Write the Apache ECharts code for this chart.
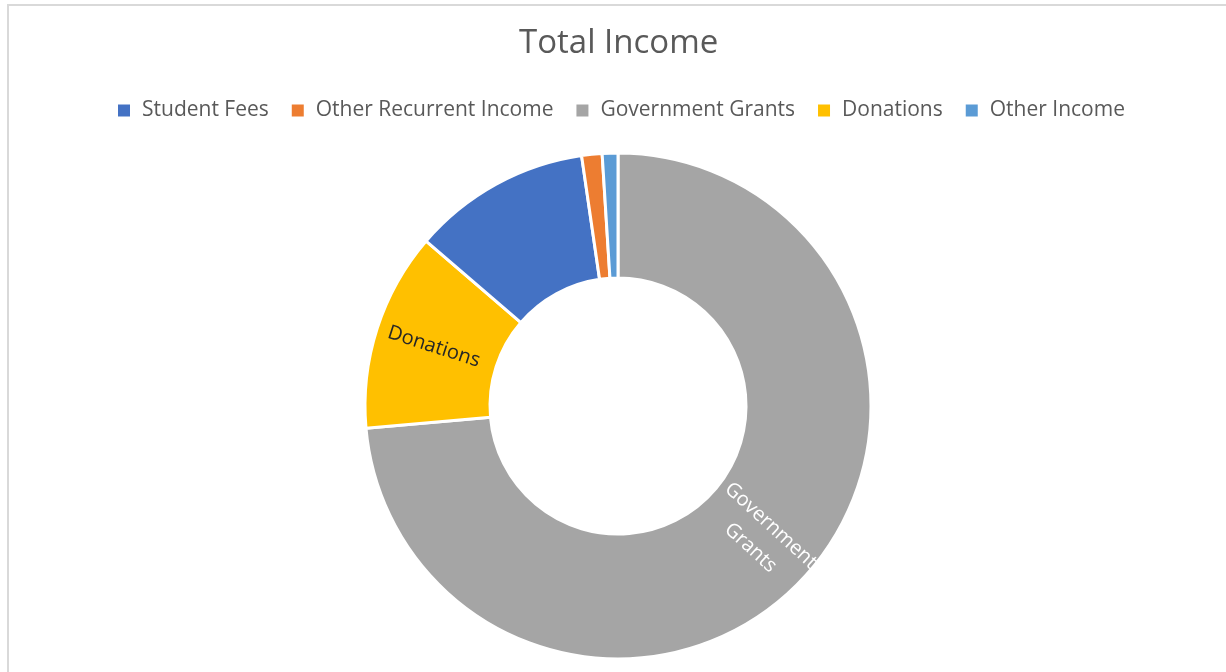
<!DOCTYPE html>
<html>
<head>
<meta charset="utf-8">
<script src="https://cdn.jsdelivr.net/npm/echarts@6/dist/echarts.min.js"></script>
<style>
  html, body { margin: 0; padding: 0; background: #fff; }
  #wrap { position: relative; width: 1226px; height: 672px; overflow: hidden; }
  #frame { position: absolute; left: 7px; top: 4px; width: 1240px; height: 700px; border: 2px solid #d9d9d9; box-sizing: border-box; }
  #main { position: absolute; left: 0; top: 0; width: 1226px; height: 672px; }
</style>
</head>
<body>
<div id="wrap">
  <div id="frame"></div>
  <div id="main"></div>
</div>
<script>
// legend order as in the reference
var legendNames = ['Student Fees', 'Other Recurrent Income', 'Government Grants', 'Donations', 'Other Income'];
// slices clockwise from 12 o'clock
var sliceNames = ['Government Grants', 'Donations', 'Student Fees', 'Other Recurrent Income', 'Other Income'];
var sliceValues = [73.6, 12.7, 11.4, 1.3, 1.0];
var sliceColors = ['#a5a5a5', '#ffc000', '#4472c4', '#ed7d31', '#5b9bd5'];
var shownLabels = {
  'Government Grants': { text: 'Government\nGrants', color: '#ffffff' },
  'Donations': { text: 'Donations', color: '#262626' }
};

var fontName = 'Open Sans';

var pieData = sliceNames.map(function (name, i) {
  var lab = shownLabels[name];
  return {
    name: name,
    value: sliceValues[i],
    itemStyle: { color: sliceColors[i] },
    label: lab ? { show: true, formatter: lab.text, color: lab.color } : { show: false }
  };
});

var myChart = echarts.init(document.getElementById('main'));

var option = {
  animation: false,
  title: {
    text: 'Total Income',
    left: 514,
    top: 22,
    textStyle: { fontFamily: fontName, fontSize: 33, fontWeight: 'normal', color: '#595959' }
  },
  legend: {
    data: legendNames,
    top: 95,
    left: 111,
    icon: 'rect',
    itemWidth: 14,
    itemHeight: 14,
    itemGap: 21,
    textStyle: { fontFamily: fontName, fontSize: 21, color: '#595959', padding: [0, 0, 0, 6] }
  },
  series: [{
    name: 'Total Income',
    type: 'pie',
    center: [618, 406],
    radius: [128, 253],
    startAngle: 90,
    clockwise: true,
    avoidLabelOverlap: false,
    itemStyle: { borderColor: '#ffffff', borderWidth: 3 },
    label: {
      position: 'inside',
      rotate: 'radial',
      fontFamily: fontName,
      fontSize: 20,
      lineHeight: 30
    },
    labelLine: { show: false },
    emphasis: { disabled: true },
    data: pieData
  }]
};

myChart.setOption(option);
</script>
</body>
</html>
